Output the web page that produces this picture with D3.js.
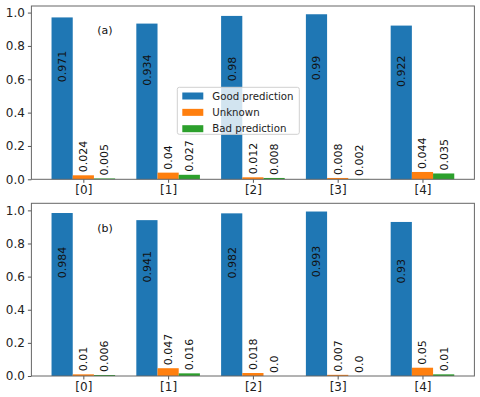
<!DOCTYPE html>
<html>
<head>
<meta charset="utf-8">
<script src="https://cdn.jsdelivr.net/npm/d3@7"></script>
<style>
  body { margin: 0; background: #fff; }
  svg { display: block; font-family: "DejaVu Sans", sans-serif; }
</style>
</head>
<body>
<svg id="chart" width="480" height="397"></svg>
<script>
const categories = ["[0]", "[1]", "[2]", "[3]", "[4]"];
const seriesNames = ["Good prediction", "Unknown", "Bad prediction"];
const colors = ["#1f77b4", "#ff7f0e", "#2ca02c"];
const yTicks = [0, 0.2, 0.4, 0.6, 0.8, 1.0];

const aGood = [0.971, 0.934, 0.98, 0.99, 0.922];
const aUnknown = [0.024, 0.04, 0.012, 0.008, 0.044];
const aBad = [0.005, 0.027, 0.008, 0.002, 0.035];

const bGood = [0.984, 0.941, 0.982, 0.993, 0.93];
const bUnknown = [0.01, 0.047, 0.018, 0.007, 0.05];
const bBad = [0.006, 0.016, 0.0, 0.0, 0.01];

const panels = [
  { tag: "(a)", series: [aGood, aUnknown, aBad], top: 6, bottom: 179.3, legend: true },
  { tag: "(b)", series: [bGood, bUnknown, bBad], top: 203.3, bottom: 376, legend: false }
];

const svg = d3.select("#chart");
const left = 31.4, right = 474.4;
const barW = 0.25;
const offsets = [-0.25, 0, 0.25];
const fmt = v => Number.isInteger(v) ? v.toFixed(1) : String(v);

panels.forEach(p => {
  const allMax = d3.max(p.series.flat());
  const x = d3.scaleLinear().domain([-0.6125, 4.6125]).range([left, right]);
  const y = d3.scaleLinear().domain([0, allMax * 1.05]).range([p.bottom, p.top]);
  const g = svg.append("g");

  p.series.forEach((vals, si) => {
    g.selectAll(null).data(vals).enter().append("rect")
      .attr("x", (d, i) => x(i + offsets[si] - barW / 2))
      .attr("width", (d, i) => x(i + offsets[si] + barW / 2) - x(i + offsets[si] - barW / 2))
      .attr("y", d => y(d))
      .attr("height", d => y(0) - y(d))
      .attr("fill", colors[si]);

    g.selectAll(null).data(vals).enter().append("text")
      .attr("transform", (d, i) => {
        const cx = x(i + offsets[si]);
        const cy = d > 0.5 ? y(d * 0.6) : y(d) - 3;
        return `translate(${cx},${cy}) rotate(-90)`;
      })
      .attr("text-anchor", "start")
      .attr("dy", "0.36em")
      .attr("font-size", 11)
      .attr("fill", "#111")
      .text(d => fmt(d));
  });

  // axes
  const yAxis = d3.axisLeft(y).tickValues(yTicks).tickFormat(d3.format(".1f")).tickSize(3.5).tickPadding(3);
  const ya = g.append("g").attr("transform", `translate(${left},0)`).call(yAxis);
  const xAxis = d3.axisBottom(x).tickValues(d3.range(categories.length)).tickFormat(i => categories[i]).tickSize(3.5).tickPadding(3);
  const xa = g.append("g").attr("transform", `translate(0,${p.bottom})`).call(xAxis);
  [ya, xa].forEach(a => {
    a.select(".domain").remove();
    a.selectAll(".tick line").attr("stroke", "#555");
    a.selectAll(".tick text").attr("font-size", 12).attr("fill", "#222").attr("font-family", "DejaVu Sans");
  });

  g.append("rect")
    .attr("x", left).attr("y", p.top)
    .attr("width", right - left).attr("height", p.bottom - p.top)
    .attr("fill", "none").attr("stroke", "#666").attr("stroke-width", 1);

  g.append("text")
    .attr("x", 105).attr("y", p.top + 24.5)
    .attr("text-anchor", "middle").attr("dy", "0.35em")
    .attr("font-size", 11).attr("fill", "#111")
    .text(p.tag);

  if (p.legend) {
    const lg = svg.append("g");
    lg.append("rect")
      .attr("x", 177.3).attr("y", 87.3).attr("width", 122).attr("height", 47)
      .attr("rx", 2).attr("fill", "#fff").attr("fill-opacity", 0.8)
      .attr("stroke", "#d0d0d0").attr("stroke-width", 1);
    seriesNames.forEach((name, i) => {
      const cy = 96 + i * 16.35;
      lg.append("rect").attr("x", 182.3).attr("y", cy - 3.5).attr("width", 21).attr("height", 7).attr("fill", colors[i]);
      lg.append("text").attr("x", 212.3).attr("y", cy).attr("dy", "0.35em")
        .attr("font-size", 10.2).attr("fill", "#222").text(name);
    });
  }
});
</script>
</body>
</html>
